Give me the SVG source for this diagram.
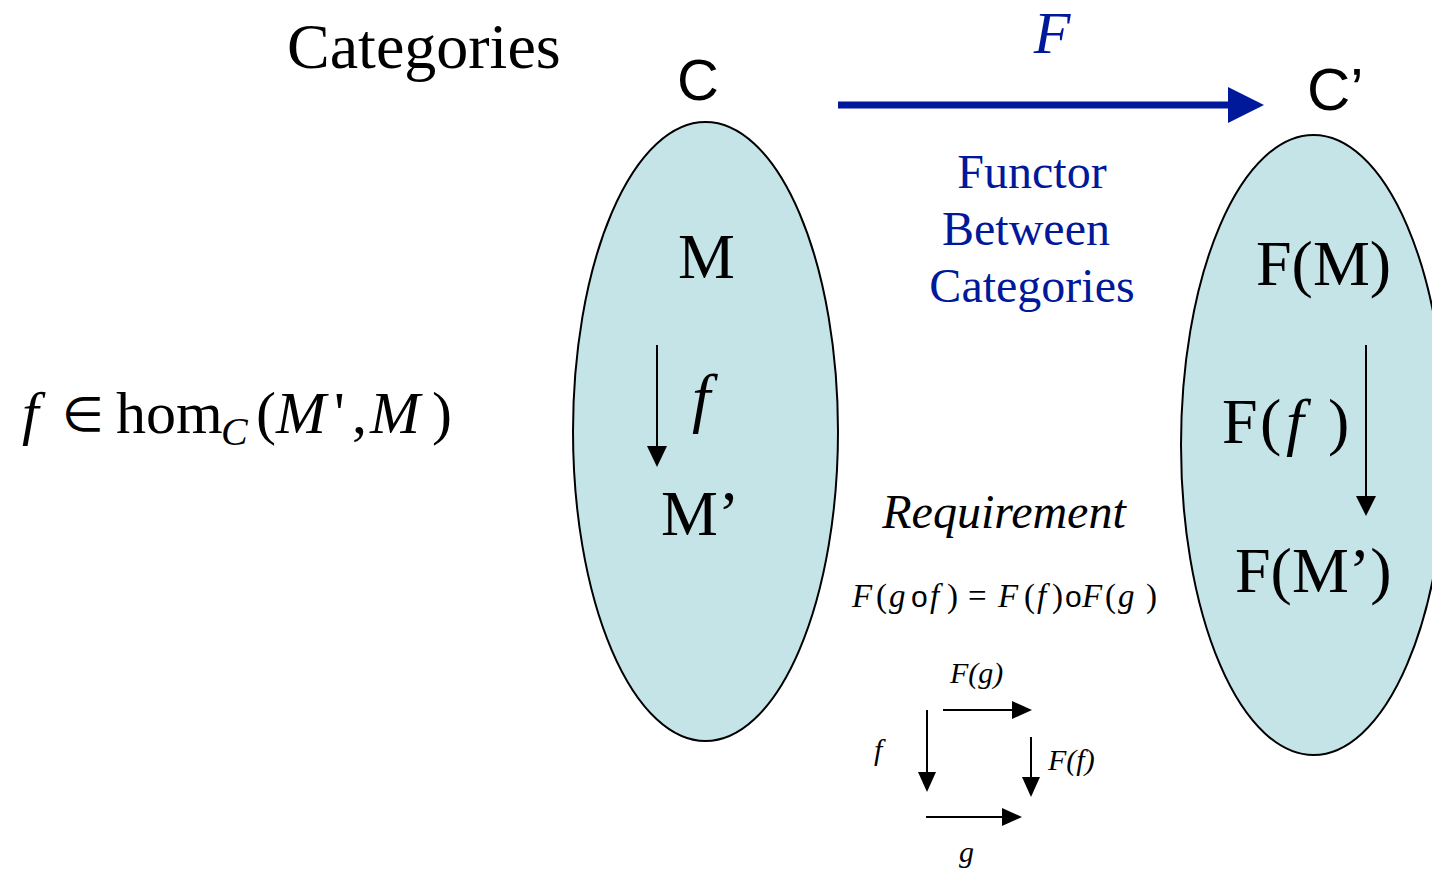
<svg xmlns="http://www.w3.org/2000/svg" width="1432" height="871" viewBox="0 0 1432 871">
<style>
.t{font-family:"Liberation Serif","Times New Roman",serif;fill:#000}
.i{font-style:italic}
.s{font-family:"Liberation Sans",Arial,sans-serif;fill:#000}
.b{fill:#00189a}
.ell{fill:#c5e4e8;stroke:#000;stroke-width:2}
.ln{stroke:#000;stroke-width:2;fill:none}
</style>
<rect width="1432" height="871" fill="#fff"/>
<text class="t" x="287" y="68" font-size="64">Categories</text>
<g id="formula-left">
<text class="t" y="433" font-size="60"><tspan class="i" x="22">f</tspan><tspan x="62" font-family="DejaVu Sans" font-size="48" dy="-2">∈</tspan><tspan x="116" dy="2">hom</tspan><tspan class="i" font-size="40" x="221" dy="12">C</tspan><tspan dy="-12" x="256">(</tspan><tspan class="i" x="276">M</tspan><tspan x="334">'</tspan><tspan x="352">,</tspan><tspan class="i" x="370">M</tspan><tspan x="432">)</tspan></text>
</g>
<g id="node-C">
<ellipse class="ell" cx="705.5" cy="431.5" rx="132.5" ry="309.5"/>
<text class="s" x="677" y="100" font-size="58">C</text>
<text class="t" x="678" y="278" font-size="64">M</text>
<text class="t i" x="692" y="420" font-size="66">f</text>
<text class="t" x="661" y="535" font-size="64">M’</text>
</g>
<g id="node-C2">
<ellipse class="ell" cx="1313.5" cy="445" rx="132.5" ry="310"/>
<text class="s" x="1307" y="110" font-size="60">C’</text>
<text class="t" x="1256" y="285" font-size="64">F(M)</text>
<text class="t" y="443" font-size="64"><tspan x="1222">F</tspan><tspan x="1260">(</tspan><tspan class="i" x="1286">f</tspan><tspan x="1328">)</tspan></text>
<text class="t" x="1235" y="592" font-size="64">F(M’)</text>
</g>
<g id="functor-label">
<text class="t i b" x="1052" y="53" font-size="60" text-anchor="middle">F</text>
<text class="t b" x="1032" y="188" font-size="48" text-anchor="middle">Functor</text>
<text class="t b" x="1026" y="245" font-size="48" text-anchor="middle">Between</text>
<text class="t b" x="1032" y="302" font-size="48" text-anchor="middle">Categories</text>
</g>
<g id="requirement">
<text class="t" y="607" font-size="33"><tspan class="i" x="852">F</tspan><tspan x="876">(</tspan><tspan class="i" x="889">g</tspan><tspan class="s" x="911" font-size="30">o</tspan><tspan class="i" x="930">f</tspan><tspan x="947">)</tspan><tspan x="968">=</tspan><tspan class="i" x="998">F</tspan><tspan x="1024">(</tspan><tspan class="i" x="1037">f</tspan><tspan x="1052">)</tspan><tspan class="s" x="1065" font-size="30">o</tspan><tspan class="i" x="1082">F</tspan><tspan x="1105">(</tspan><tspan class="i" x="1118">g</tspan><tspan x="1146">)</tspan></text>
<text class="t i" x="1004" y="528" font-size="48" text-anchor="middle">Requirement</text>
<text class="t i" x="950" y="683" font-size="30">F(g)</text>
<text class="t i" x="874" y="760" font-size="30">f</text>
<text class="t i" x="1048" y="770" font-size="30">F(f)</text>
<text class="t i" x="959" y="862" font-size="30">g</text>
</g>
<g id="connectors">
<line x1="838" y1="105" x2="1232" y2="105" stroke="#00189a" stroke-width="7"/>
<path d="M1228,87 L1264,105 L1228,123 z" fill="#00189a"/>
<line class="ln" x1="657" y1="345" x2="657" y2="448"/>
<path d="M647,446 L657,467 L667,446 z" fill="#000"/>
<line class="ln" x1="1366" y1="345" x2="1366" y2="498"/>
<path d="M1356,496 L1366,516 L1376,496 z" fill="#000"/>
<line class="ln" x1="943" y1="710" x2="1014" y2="710"/>
<path d="M1012,701 L1032,710 L1012,719 z" fill="#000"/>
<line class="ln" x1="927" y1="710" x2="927" y2="774"/>
<path d="M918,772 L927,792 L936,772 z" fill="#000"/>
<line class="ln" x1="1031" y1="737" x2="1031" y2="779"/>
<path d="M1022,777 L1031,797 L1040,777 z" fill="#000"/>
<line class="ln" x1="926" y1="817" x2="1004" y2="817"/>
<path d="M1002,808 L1022,817 L1002,826 z" fill="#000"/>
</g>
</svg>
